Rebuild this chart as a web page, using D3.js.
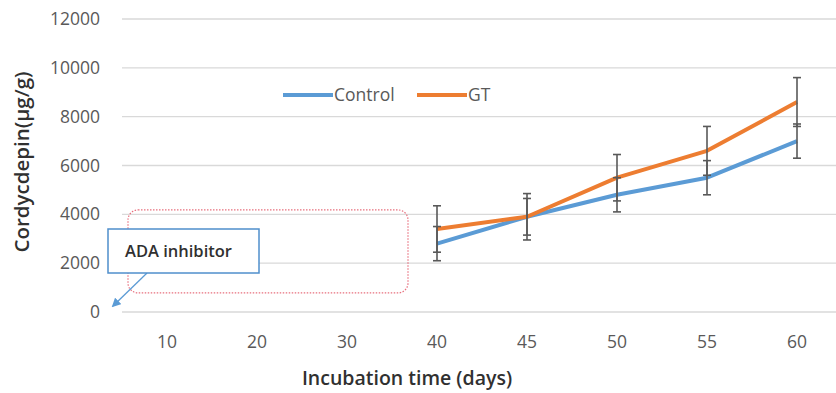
<!DOCTYPE html>
<meta charset="utf-8">
<style>
  body { margin: 0; background: #fff; }
  text { font-family: "Open Sans", "Noto Sans", sans-serif; }
  .grid line { stroke: #d9d9d9; stroke-width: 1.3; }
  .tick-label { fill: #595959; font-size: 17.5px; }
</style>
<body>
<div id="chart"></div>
<script src="https://d3js.org/d3.v7.min.js"></script>
<script>
// data
var days = ["10", "20", "30", "40", "45", "50", "55", "60"];
var measuredDays = ["40", "45", "50", "55", "60"];
var control = [2800, 3900, 4800, 5500, 7000];
var controlErr = [700, 750, 700, 700, 700];
var gt = [3400, 3900, 5500, 6600, 8600];
var gtErr = [950, 950, 950, 1000, 1000];
var yTicks = [0, 2000, 4000, 6000, 8000, 10000, 12000];

var width = 836, height = 393;

var svg = d3.select("#chart").append("svg")
    .attr("width", width)
    .attr("height", height);

var x = d3.scalePoint()
    .domain(days)
    .range([122, 842])
    .padding(0.5);

var y = d3.scaleLinear()
    .domain([0, 12000])
    .range([312, 19]);

// gridlines
svg.append("g").attr("class", "grid")
  .selectAll("line")
  .data(yTicks)
  .enter().append("line")
    .attr("x1", 122).attr("x2", width)
    .attr("y1", function(d) { return y(d); })
    .attr("y2", function(d) { return y(d); });

// y tick labels
svg.append("g")
  .selectAll("text")
  .data(yTicks)
  .enter().append("text")
    .attr("class", "tick-label")
    .attr("x", 100)
    .attr("y", function(d) { return y(d); })
    .attr("dy", "0.35em")
    .attr("text-anchor", "end")
    .text(function(d) { return d; });

// x tick labels
svg.append("g")
  .selectAll("text")
  .data(days)
  .enter().append("text")
    .attr("class", "tick-label")
    .attr("x", function(d) { return x(d); })
    .attr("y", 342)
    .attr("dy", "0.35em")
    .attr("text-anchor", "middle")
    .text(function(d) { return d; });

// axis titles
svg.append("text")
    .attr("x", 407)
    .attr("y", 385)
    .attr("text-anchor", "middle")
    .attr("fill", "#303030")
    .attr("font-size", 19.5)
    .attr("font-weight", 600)
    .text("Incubation time (days)");

svg.append("text")
    .attr("transform", "translate(29,162) rotate(-90)")
    .attr("text-anchor", "middle")
    .attr("fill", "#303030")
    .attr("font-size", 20.5)
    .attr("font-weight", 600)
    .text("Cordycdepin(\u00b5g/g)");

// annotation: dotted frame over the empty early days
svg.append("rect")
    .attr("x", 128).attr("y", y(4180))
    .attr("width", 280).attr("height", y(780) - y(4180))
    .attr("rx", 10)
    .attr("fill", "none")
    .attr("stroke", "#e8707e")
    .attr("stroke-width", 1.2)
    .attr("stroke-dasharray", "1.5,1.5");

var series = [
  { name: "Control", values: control, err: controlErr, color: "#5b9bd5" },
  { name: "GT", values: gt, err: gtErr, color: "#ed7d31" }
];

var line = d3.line()
    .x(function(d) { return x(d[0]); })
    .y(function(d) { return y(d[1]); });

series.forEach(function(s) {
  svg.append("path")
      .datum(d3.zip(measuredDays, s.values))
      .attr("fill", "none")
      .attr("stroke", s.color)
      .attr("stroke-width", 4)
      .attr("stroke-linejoin", "round")
      .attr("d", line);
});

// error bars
series.forEach(function(s) {
  var g = svg.append("g")
      .attr("stroke", "#595959")
      .attr("stroke-width", 1.6);
  measuredDays.forEach(function(d, i) {
    var cx = x(d), hi = y(s.values[i] + s.err[i]), lo = y(s.values[i] - s.err[i]);
    g.append("line").attr("x1", cx).attr("x2", cx).attr("y1", hi).attr("y2", lo);
    g.append("line").attr("x1", cx - 4).attr("x2", cx + 4).attr("y1", hi).attr("y2", hi);
    g.append("line").attr("x1", cx - 4).attr("x2", cx + 4).attr("y1", lo).attr("y2", lo);
  });
});

// legend
var legend = svg.append("g");
var legendX = [283, 417];
series.forEach(function(s, i) {
  legend.append("line")
      .attr("x1", legendX[i]).attr("x2", legendX[i] + 50)
      .attr("y1", 95).attr("y2", 95)
      .attr("stroke", s.color)
      .attr("stroke-width", 4);
  legend.append("text")
      .attr("class", "tick-label")
      .attr("x", legendX[i] + 51)
      .attr("y", 95)
      .attr("dy", "0.35em")
      .text(s.name);
});

// callout box with arrow
var defs = svg.append("defs");
defs.append("marker")
    .attr("id", "arrow")
    .attr("viewBox", "0 0 10 10")
    .attr("refX", 8).attr("refY", 5)
    .attr("markerWidth", 7).attr("markerHeight", 7)
    .attr("orient", "auto")
  .append("path")
    .attr("d", "M0,0L10,5L0,10z")
    .attr("fill", "#5b9bd5");

svg.append("line")
    .attr("x1", 147).attr("y1", 273)
    .attr("x2", 113).attr("y2", 306)
    .attr("stroke", "#5b9bd5")
    .attr("stroke-width", 1.3)
    .attr("marker-end", "url(#arrow)");

svg.append("rect")
    .attr("x", 108).attr("y", 229)
    .attr("width", 151).attr("height", 44)
    .attr("fill", "#fff")
    .attr("stroke", "#4f8fcc")
    .attr("stroke-width", 1.5);

svg.append("text")
    .attr("x", 125).attr("y", 257)
    .attr("fill", "#303030")
    .attr("font-size", 16.5)
    .attr("font-weight", 600)
    .text("ADA inhibitor");
</script>
</body>
